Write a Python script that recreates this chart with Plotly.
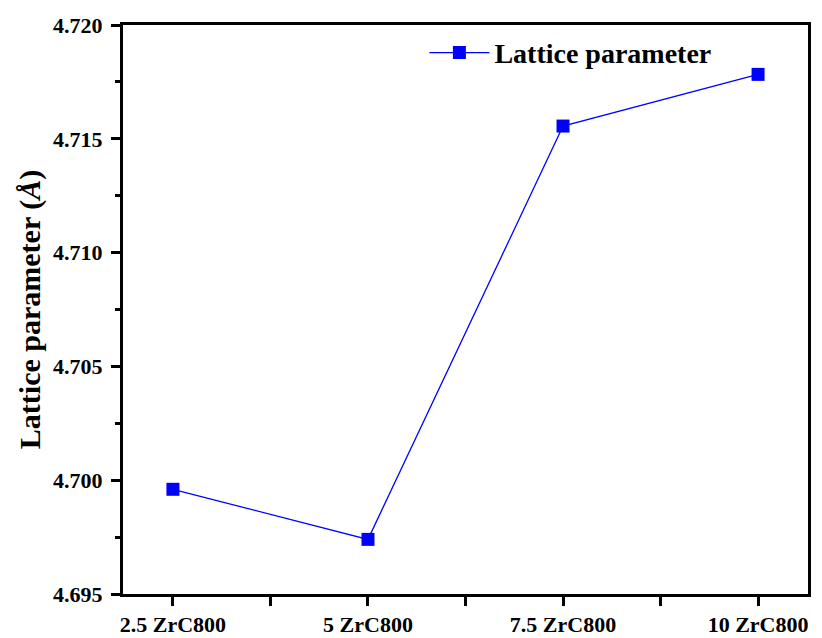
import plotly.graph_objects as go

# Samples and measured lattice parameters
samples = ["2.5 ZrC800", "5 ZrC800", "7.5 ZrC800", "10 ZrC800"]
lattice_a = [4.6996, 4.6974, 4.71556, 4.71783]
y_ticks = [4.695, 4.700, 4.705, 4.710, 4.715, 4.720]
y_tick_text = ["4.695", "4.700", "4.705", "4.710", "4.715", "4.720"]

FONT = "Liberation Serif"
BLUE = "#0000FF"

x_pos = list(range(len(samples)))

fig = go.Figure()
fig.add_trace(go.Scatter(
    x=x_pos, y=lattice_a,
    mode="lines+markers",
    name="<b>Lattice parameter</b>",
    showlegend=True,
    line=dict(color=BLUE, width=1.3),
    marker=dict(symbol="square", size=13, color=BLUE),
))

axis_common = dict(
    showline=True, linecolor="black", linewidth=3, mirror=True,
    ticks="outside", tickcolor="black", tickwidth=3, ticklen=9,
    showgrid=False, zeroline=False, automargin=False,
    tickfont=dict(family=FONT, size=22, color="black", weight="bold"),
)

fig.update_xaxes(
    **axis_common,
    range=[-0.256, 3.256],
    tickmode="array", tickvals=x_pos, ticktext=samples,
    minor=dict(tickvals=[0.5, 1.5, 2.5], ticks="outside", ticklen=9,
               tickwidth=3, tickcolor="black"),
    ticklabelstandoff=0,
)
fig.update_yaxes(
    **axis_common,
    range=[4.695, 4.720],
    tickmode="array", tickvals=y_ticks, ticktext=y_tick_text,
    minor=dict(dtick=0.0025, tick0=4.695, ticks="outside", ticklen=5,
               tickwidth=3, tickcolor="black"),
    ticklabelstandoff=4,
    title=dict(text="<b>Lattice parameter (<i>Å</i>)</b>",
               font=dict(family=FONT, size=30, color="black"),
               standoff=4),
)

fig.update_layout(
    width=822, height=638,
    margin=dict(l=123, r=14, t=25, b=44),
    plot_bgcolor="white", paper_bgcolor="white",
    legend=dict(x=0.44, y=0.995, xanchor="left", yanchor="top",
                bgcolor="rgba(0,0,0,0)", itemwidth=60,
                font=dict(family=FONT, size=28, color="black")),
)

fig.write_html("out.html")
